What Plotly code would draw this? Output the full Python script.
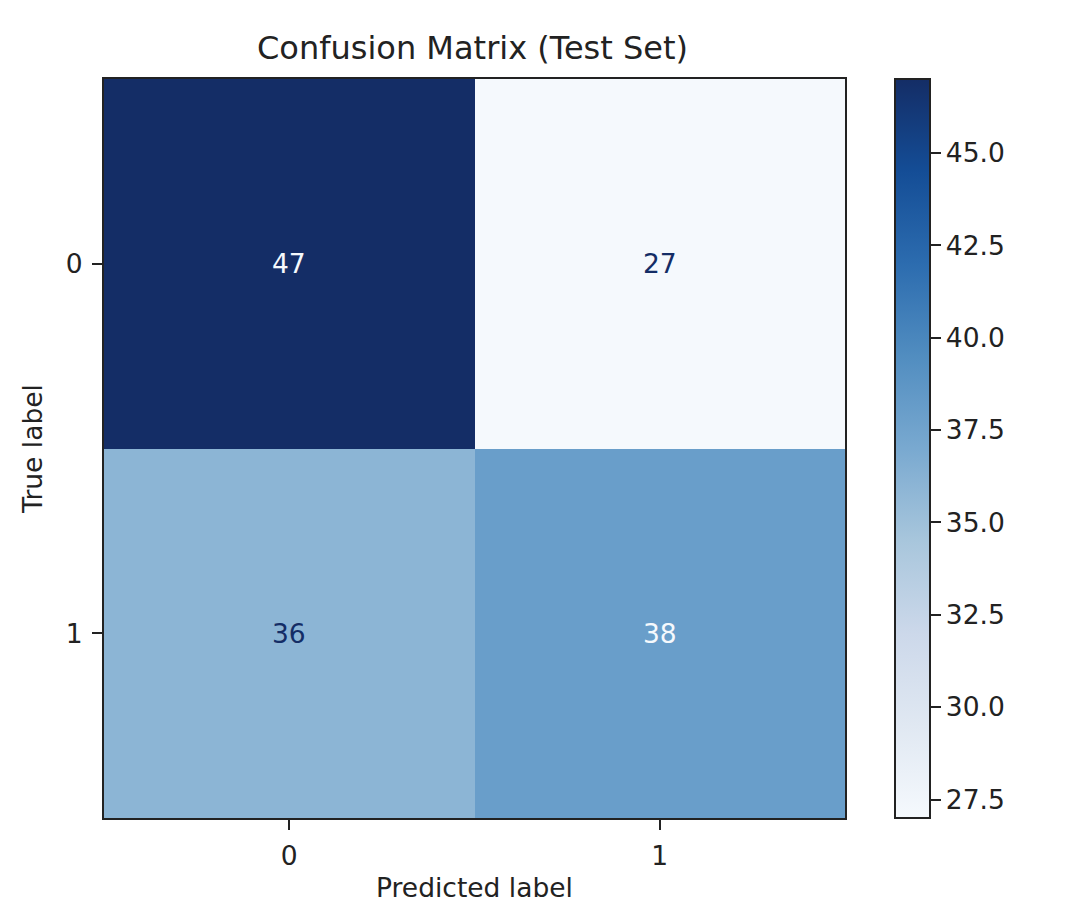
"""Confusion matrix heat map for the test set, drawn with plotly."""
import plotly.graph_objects as go

# data
class_labels = ["0", "1"]
cm_values = [[47, 27],
             [36, 38]]
cbar_ticks = [27.5, 30.0, 32.5, 35.0, 37.5, 40.0, 42.5, 45.0]

# "Blues", as it shows up in the reference screenshot
blues = ["#f5f9fd", "#e0e8f2", "#ccd8ea", "#a8c6dc", "#79a9d0",
         "#518dc0", "#2c6caf", "#144d96", "#142d66"]
colorscale = [[i / (len(blues) - 1), c] for i, c in enumerate(blues)]

FONT = "DejaVu Sans"
TXT = "#222222"
FS = 26.5
vmin = min(min(r) for r in cm_values)
vmax = max(max(r) for r in cm_values)
thresh = (vmin + vmax) / 2

# the page has an 8px body margin, so the figure is 8px smaller than the window
W, H = 1074, 912
L, R, T, B = 96, 237, 71, 102
plot_w = W - L - R

fig = go.Figure(go.Heatmap(
    z=cm_values,
    x=list(range(len(class_labels))),
    y=list(range(len(class_labels))),
    zmin=vmin, zmax=vmax,
    colorscale=colorscale,
    showscale=True,
    hoverinfo="skip",
    colorbar=dict(
        x=(887 - L) / plot_w, xanchor="left", xpad=0,
        y=0.5, yanchor="middle", len=1, lenmode="fraction", ypad=0,
        thickness=35, outlinewidth=2, outlinecolor=TXT,
        tickmode="array", tickvals=cbar_ticks,
        ticktext=[f"{t:.1f}" for t in cbar_ticks],
        ticks="outside", ticklen=10, tickwidth=2, tickcolor=TXT,
        tickfont=dict(family=FONT, size=FS, color=TXT),
    ),
))

# cell labels, light text on dark cells
for i, row in enumerate(cm_values):
    for j, v in enumerate(row):
        fig.add_annotation(
            x=j, y=i, text=str(v), showarrow=False,
            font=dict(family=FONT, size=FS,
                      color=blues[0] if v >= thresh else blues[-1]),
        )

axis_common = dict(
    showline=True, linecolor=TXT, linewidth=2, mirror=True,
    ticks="outside", ticklen=10, tickwidth=2, tickcolor=TXT,
    showgrid=False, zeroline=False,
    tickfont=dict(family=FONT, size=FS, color=TXT),
    tickmode="array", tickvals=list(range(len(class_labels))),
    ticktext=class_labels,
)

fig.update_xaxes(**axis_common, range=[-0.5, 1.5], ticklabelstandoff=3,
                 title=dict(text="Predicted label", standoff=9,
                            font=dict(family=FONT, size=FS, color=TXT)))
fig.update_yaxes(**axis_common, range=[1.5, -0.5], ticklabelstandoff=4,
                 title=dict(text="True label", standoff=16,
                            font=dict(family=FONT, size=FS, color=TXT)))

fig.update_layout(
    width=W, height=H,
    margin=dict(l=L, r=R, t=T, b=B),
    paper_bgcolor="white", plot_bgcolor="white",
    title=dict(text="Confusion Matrix (Test Set)", x=464.5 / W,
               xanchor="center", y=1 - 40 / H, yanchor="middle",
               font=dict(family=FONT, size=32, color=TXT)),
)

fig.write_html("out.html")
